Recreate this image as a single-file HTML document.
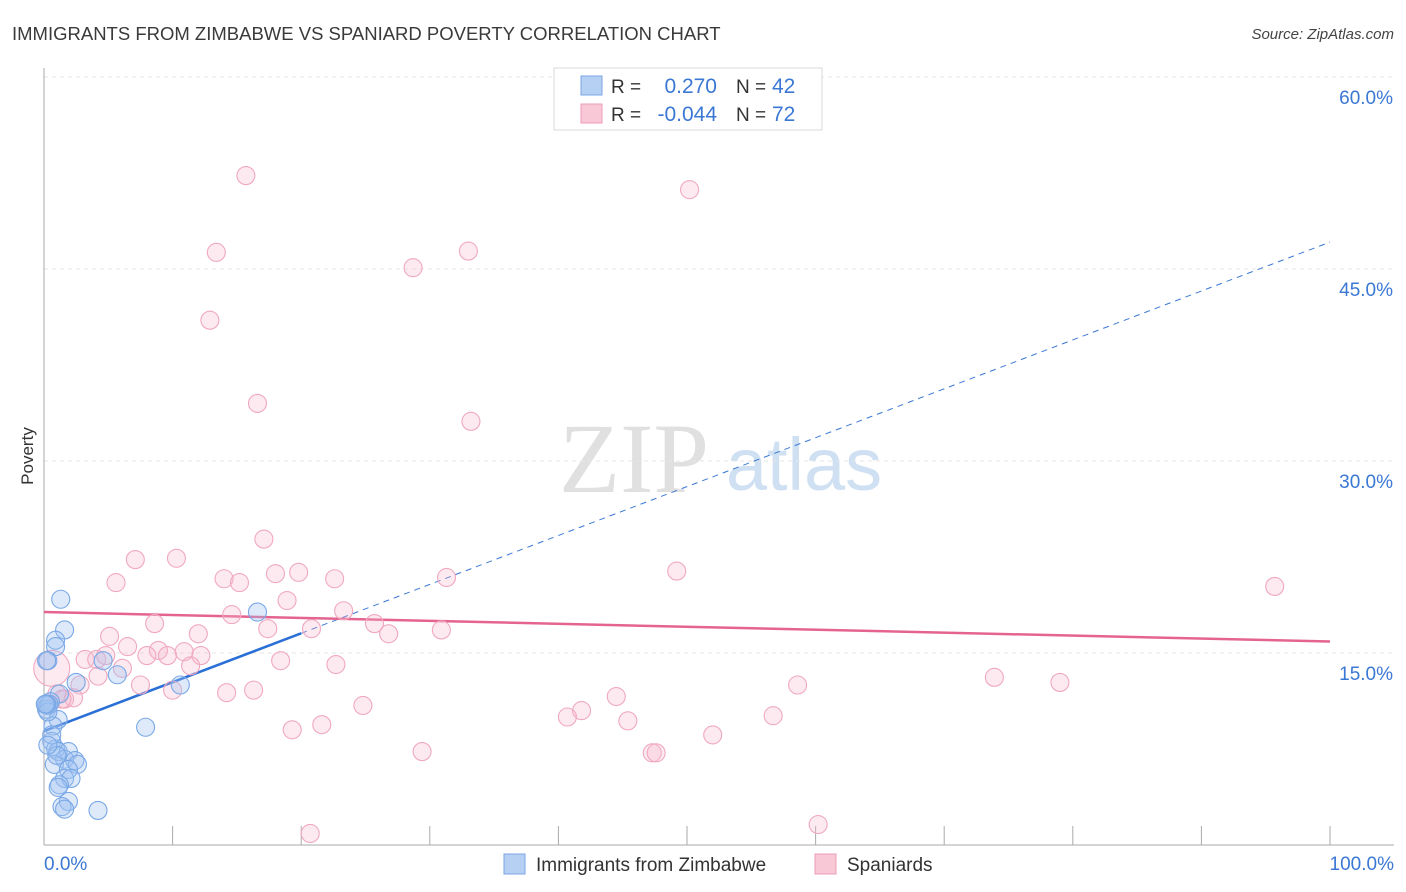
<!DOCTYPE html>
<html><head><meta charset="utf-8">
<style>
html,body{margin:0;padding:0;background:#fff;}
body{width:1406px;height:892px;overflow:hidden;font-family:"Liberation Sans",sans-serif;}
svg{display:block}
</style></head>
<body>
<svg id="chart" width="1406" height="892" viewBox="0 0 1406 892" xmlns="http://www.w3.org/2000/svg">
<text x="12" y="40" font-size="18.5" fill="#3a3a3a" font-family="Liberation Sans, sans-serif">IMMIGRANTS FROM ZIMBABWE VS SPANIARD POVERTY CORRELATION CHART</text>
<text x="1394" y="39" font-size="15" fill="#444" font-style="italic" text-anchor="end">Source: ZipAtlas.com</text>
<g>
<text x="634" y="492" font-size="100" fill="#e0e0e0" font-family="Liberation Serif, serif" text-anchor="middle">ZIP</text>
<text x="804" y="490" font-size="74" fill="#cfe0f3" text-anchor="middle">atlas</text>
</g>
<g id="grid"></g>
<g id="axes"></g>
<g id="lines"></g>
<g id="points"></g>
<text transform="translate(33,456) rotate(-90)" font-size="17" fill="#333" text-anchor="middle">Poverty</text>
<g>
<rect x="554" y="68" width="268" height="62" fill="#fff" stroke="#d8d8d8"/>
<rect x="581" y="76" width="21" height="19" fill="#b5d0f3" stroke="#7aa6e4"/>
<rect x="581" y="104" width="21" height="19" fill="#f9c8d7" stroke="#ec9bb5"/>
<text x="611" y="93" font-size="19" fill="#333">R =</text>
<text x="717" y="93" font-size="21" fill="#3a78d4" text-anchor="end">0.270</text>
<text x="736" y="93" font-size="19" fill="#333">N =</text>
<text x="772" y="93" font-size="21" fill="#3a78d4">42</text>
<text x="611" y="121" font-size="19" fill="#333">R =</text>
<text x="717" y="121" font-size="21" fill="#3a78d4" text-anchor="end">-0.044</text>
<text x="736" y="121" font-size="19" fill="#333">N =</text>
<text x="772" y="121" font-size="21" fill="#3a78d4">72</text>
</g>
<g>
<rect x="504" y="854" width="21" height="20" fill="#b5d0f3" stroke="#7aa6e4"/>
<text x="536" y="871" font-size="19" fill="#333">Immigrants from Zimbabwe</text>
<rect x="815" y="854" width="21" height="20" fill="#f9c8d7" stroke="#ec9bb5"/>
<text x="847" y="871" font-size="19" fill="#333">Spaniards</text>
</g>
</svg>
<script>
const yTicks=[15,30,45,60];
const yTickLabels=["15.0%","30.0%","45.0%","60.0%"];
const xTicks=[10,20,30,40,50,60,70,80,90,100];
const xEndLabels=["0.0%","100.0%"];
const zimX=[1.3,1.6,0.9,0.9,0.3,0.2,4.6,5.7,2.5,10.6,1.2,0.5,0.3,0.2,1.1,0.7,7.9,0.6,0.9,1.1,1.9,1.6,2.4,2.6,0.8,1.9,1.6,2.1,1.2,1.1,1.9,1.4,1.6,4.2,16.6,0.4,0.3,0.6,0.2,1.0,0.1,0.3];
const zimY=[19.2,16.8,16.0,15.5,14.4,14.4,14.4,13.3,12.7,12.5,11.8,11.2,10.9,10.6,9.8,9.3,9.2,8.1,7.5,7.3,7.3,6.7,6.6,6.3,6.3,5.9,5.2,5.2,4.7,4.5,3.4,3.0,2.8,2.7,18.2,11.0,10.4,8.6,11.0,7.0,11.0,7.8];
const spaX=[15.7,50.2,13.4,33.0,28.7,12.9,16.6,33.2,17.1,7.1,10.3,49.2,18.0,19.8,14.0,15.2,5.6,22.6,31.3,95.7,18.9,14.6,23.3,8.6,25.7,17.4,20.8,30.9,26.8,5.1,12.0,6.5,8.9,10.9,8.0,9.6,12.2,3.2,4.1,4.8,18.4,11.4,6.1,22.7,0.6,4.2,2.8,7.5,10.0,14.2,16.3,58.6,73.9,79.0,44.5,1.0,1.6,2.3,24.8,41.8,40.7,45.4,56.7,21.6,19.3,52.0,29.4,47.3,47.6,20.7,60.2,1.4];
const spaY=[52.3,51.2,46.3,46.4,45.1,41.0,34.5,33.1,23.9,22.3,22.4,21.4,21.2,21.3,20.8,20.5,20.5,20.8,20.9,20.2,19.1,18.0,18.3,17.3,17.3,16.9,16.9,16.8,16.5,16.3,16.5,15.5,15.2,15.1,14.8,14.8,14.8,14.5,14.5,14.8,14.4,14.0,13.8,14.1,13.8,13.2,12.5,12.5,12.1,11.9,12.1,12.5,13.1,12.7,11.6,11.8,11.4,11.5,10.9,10.5,10.0,9.7,10.1,9.4,9.0,8.6,7.3,7.2,7.2,0.9,1.6,11.4];
const zimFit=[8.9,47.1];
const spaFit=[18.2,15.9];
const NS="http://www.w3.org/2000/svg";
function xs(v){return 44+v*12.86;}
function ys(v){return 845-v*12.8;}
function mk(tag,attrs,parent){const e=document.createElementNS(NS,tag);for(const k in attrs)e.setAttribute(k,attrs[k]);parent.appendChild(e);return e;}
const grid=document.getElementById('grid'),axes=document.getElementById('axes'),lines=document.getElementById('lines'),pts=document.getElementById('points');
yTicks.forEach((t,i)=>{
  const l=mk('line',{x1:44,x2:1394,y1:ys(t),y2:ys(t),stroke:'#e6e6e6','stroke-dasharray':'4,4'},grid);
  
  
  const tx=mk('text',{x:1393,y:ys(t)+27,'font-size':19,fill:'#3a78d4','text-anchor':'end'},axes);
  tx.textContent=yTickLabels[i];
  
  
});
const ax=mk('line',{x1:44,x2:44,y1:68,y2:845,stroke:'#aaa'},axes);


const bx=mk('line',{x1:44,x2:1394,y1:845,y2:845,stroke:'#aaa'},axes);


xTicks.forEach(t=>{
  const l=mk('line',{x1:xs(t),x2:xs(t),y1:826,y2:845,stroke:'#aaa'},axes);
  
  
});
const xl0=mk('text',{x:44,y:870,'font-size':19,fill:'#3a78d4'},axes);
xl0.textContent=xEndLabels[0];


const xl1=mk('text',{x:1394,y:870,'font-size':19,fill:'#3a78d4','text-anchor':'end'},axes);
xl1.textContent=xEndLabels[1];


spaX.forEach((v,i)=>{
  const c=mk('circle',{cx:xs(v),cy:ys(spaY[i]),r:i===44?18:9,fill:'rgba(246,184,205,0.3)',stroke:'#f0a8c0','stroke-width':1.1},pts);
  
  
});
zimX.forEach((v,i)=>{
  const c=mk('circle',{cx:xs(v),cy:ys(zimY[i]),r:9,fill:'rgba(160,196,240,0.35)',stroke:'#7aa8e6','stroke-width':1.1},pts);
  
  
});
const zAt=x=>zimFit[0]+(zimFit[1]-zimFit[0])*x/100;
const zd=mk('line',{x1:xs(20),y1:ys(zAt(20)),x2:xs(100),y2:ys(zAt(100)),stroke:'#3a78d4','stroke-width':1,'stroke-dasharray':'6,5'},lines);


const zs=mk('line',{x1:xs(0),y1:ys(zAt(0)),x2:xs(20),y2:ys(zAt(20)),stroke:'#2a6fd6','stroke-width':2.5},lines);


const sp=mk('line',{x1:xs(0),y1:ys(spaFit[0]),x2:xs(100),y2:ys(spaFit[1]),stroke:'#e4648f','stroke-width':2.5},lines);


</script>
</body></html>
